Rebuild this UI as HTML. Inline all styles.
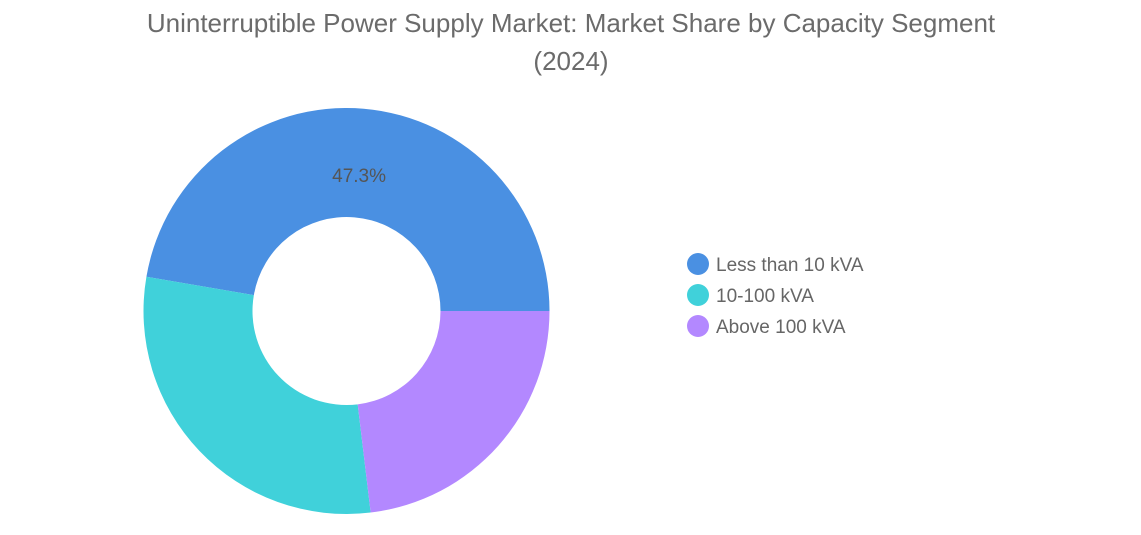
<!DOCTYPE html>
<html><head><meta charset="utf-8"><style>
html,body{margin:0;padding:0;background:#fff;width:1141px;height:535px;overflow:hidden;font-family:"Liberation Sans",sans-serif}
</style></head><body>
<svg width="1141" height="535">
<text x="571" y="32" text-anchor="middle" font-size="26" fill="#6b6b6b">Uninterruptible Power Supply Market: Market Share by Capacity Segment</text>
<text x="571" y="70" text-anchor="middle" font-size="26" fill="#6b6b6b">(2024)</text>
<g id="slices"></g>
<g id="legend"></g>
</svg>
<script>
const categories = ["Less than 10 kVA","10-100 kVA","Above 100 kVA"];
const values = [47.3, 29.6, 23.1];
const colors = ["#4a90e2","#40d1da","#b388ff"];
const cx=346.5, cy=311, R=203, r=94;
const NS="http://www.w3.org/2000/svg";
const total = values.reduce((a,b)=>a+b,0);
const sl=document.getElementById('slices');
let a0=0;
function pt(rad,ang){return [cx+rad*Math.cos(ang), cy-rad*Math.sin(ang)];}
values.forEach((v,i)=>{
  const a1=a0+v/total*2*Math.PI;
  const large=(a1-a0)>Math.PI?1:0;
  const p1=pt(R,a0),p2=pt(R,a1),p3=pt(r,a1),p4=pt(r,a0);
  const p=document.createElementNS(NS,'path');
  p.setAttribute('d',`M${p1} A${R},${R} 0 ${large} 0 ${p2} L${p3} A${r},${r} 0 ${large} 1 ${p4} Z`);
  p.setAttribute('fill',colors[i]);
  
  
  sl.appendChild(p);
  if(v>40){
    const m=(a0+a1)/2, lp=pt((R+r)/2,m);
    const t=document.createElementNS(NS,'text');
    t.setAttribute('x',lp[0]);t.setAttribute('y',lp[1]+19);
    t.setAttribute('text-anchor','middle');t.setAttribute('font-size','19');t.setAttribute('fill','#555');
    t.textContent=v.toFixed(1)+'%';
    
    
    sl.appendChild(t);
  }
  a0=a1;
});
const lg=document.getElementById('legend');
categories.forEach((c,i)=>{
  const y=264+i*31;
  const g=document.createElementNS(NS,'g');
  
  
  const ci=document.createElementNS(NS,'circle');
  ci.setAttribute('cx',698);ci.setAttribute('cy',y);ci.setAttribute('r',11);ci.setAttribute('fill',colors[i]);
  const t=document.createElementNS(NS,'text');
  t.setAttribute('x',716);t.setAttribute('y',y+7);t.setAttribute('font-size','19');t.setAttribute('fill','#666');
  t.textContent=c;
  g.appendChild(ci);g.appendChild(t);lg.appendChild(g);
});
</script>
</body></html>
